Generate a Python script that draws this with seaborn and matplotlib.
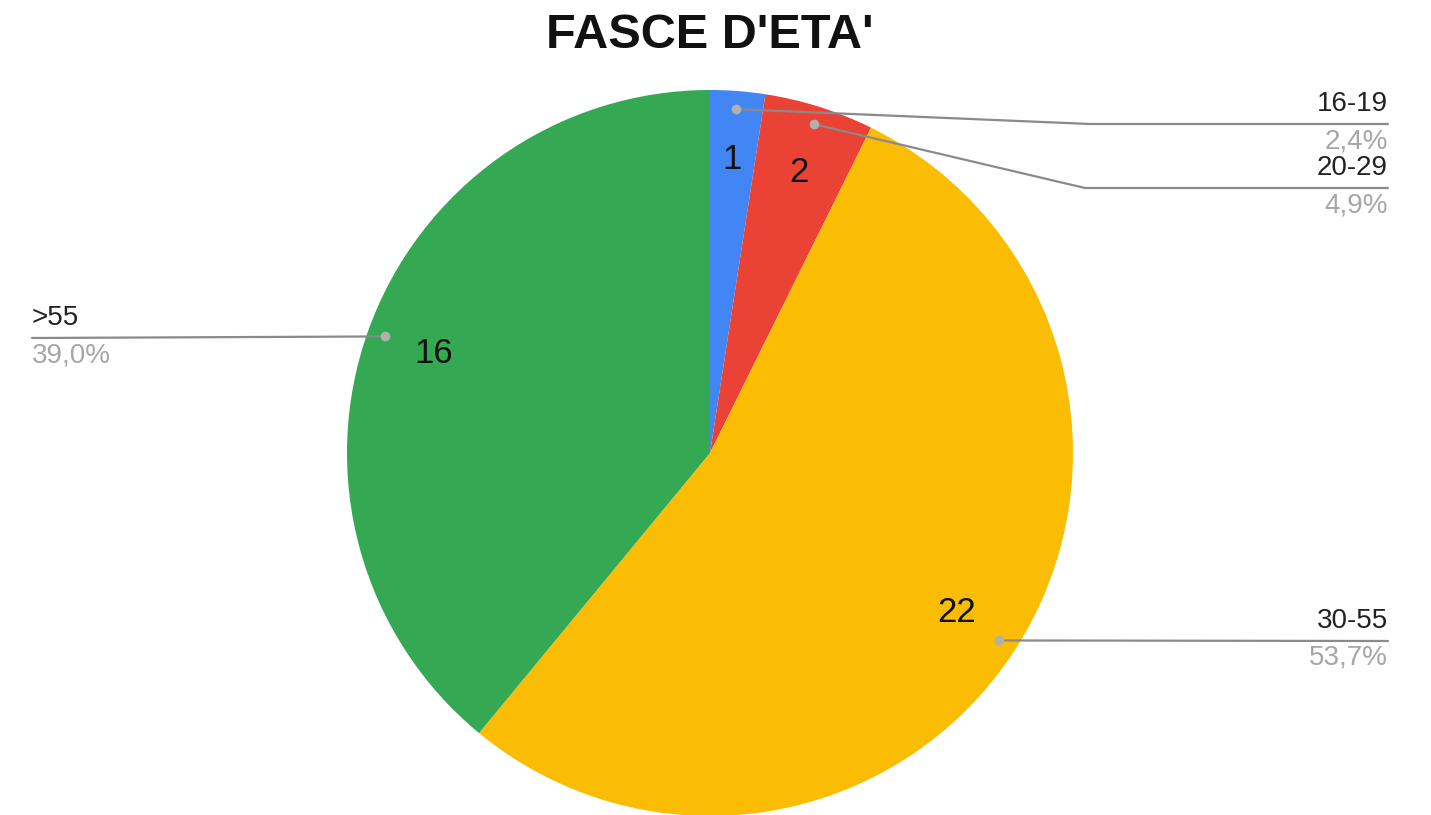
import numpy as np
import matplotlib
matplotlib.use("Agg")
import matplotlib.pyplot as plt
import seaborn as sns

categories = ["16-19", "20-29", "30-55", ">55"]
counts = [1, 2, 22, 16]
percent_labels = ["2,4%", "4,9%", "53,7%", "39,0%"]
colors = ["#4285F4", "#EA4335", "#FBBC04", "#34A853"]

sns.set_theme(style="white")
plt.rcParams['font.family'] = ['Liberation Sans', 'DejaVu Sans']

W, H = 1431, 815
fig = plt.figure(figsize=(W / 100, H / 100), dpi=100)
ax = fig.add_axes([0, 0, 1, 1])

def py(y):
    return H - y

cx, cy, R = 710, py(453), 363
wedges, texts, autotexts = ax.pie(
    counts, colors=sns.color_palette(colors), startangle=90, counterclock=False,
    center=(cx, cy), radius=R, autopct=lambda p: f"{round(p * sum(counts) / 100):d}",
    pctdistance=0.81, textprops=dict(fontsize=25, color="#111111"),
    wedgeprops=dict(linewidth=0))
ax.set_xlim(0, W)
ax.set_ylim(0, H)
ax.set_aspect('equal', adjustable='box')
ax.axis('off')

# label layout: (text x, line y, elbow x or None, align)
layout = [
    (1388, py(124), 1090, 'right'),
    (1388, py(188), 1085, 'right'),
    (1388, py(641), None, 'right'),
    (32, py(338), None, 'left'),
]
line_col = "#8a8a8a"
for w, cat, pl, (tx, ly, ex, ha) in zip(wedges, categories, percent_labels, layout):
    ang = np.deg2rad((w.theta1 + w.theta2) / 2)
    dx = cx + 0.95 * R * np.cos(ang)
    dy = cy + 0.95 * R * np.sin(ang)
    if ex is None:
        xs, ys = [dx, tx], [dy, ly]
    else:
        xs, ys = [dx, ex, tx], [dy, ly, ly]
    ax.plot(xs, ys, color=line_col, lw=1.6, solid_capstyle='round', zorder=5)
    ax.plot([dx], [dy], 'o', color="#b0b0b0", ms=7, mec='none', zorder=6)
    ax.text(tx, ly + 20, cat, ha=ha, va='center', fontsize=20, color="#222222")
    ax.text(tx, ly - 17, pl, ha=ha, va='center', fontsize=20, color="#a6a6a6")

fig.text(710 / W, py(36) / H, "FASCE D'ETA'", ha='center', va='center',
         fontsize=35, fontweight='bold', color="#111111")

fig.savefig("out.png", dpi=100, facecolor="white")
